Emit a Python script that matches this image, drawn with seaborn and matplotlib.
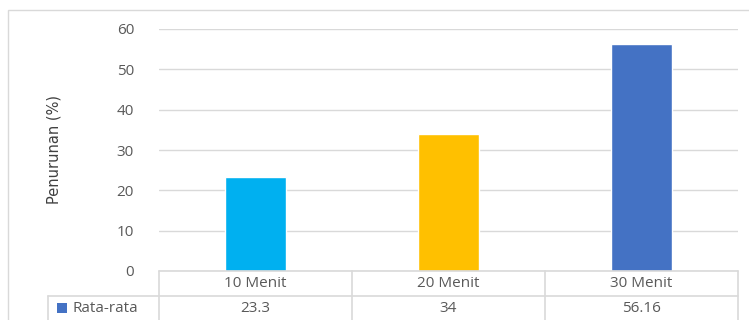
import matplotlib
matplotlib.use("Agg")
import matplotlib.pyplot as plt
import matplotlib.transforms as mtransforms
from matplotlib.patches import Rectangle
import seaborn as sns
import pandas as pd

categories = ["10 Menit", "20 Menit", "30 Menit"]
values = [23.3, 34, 56.16]
value_labels = ["23.3", "34", "56.16"]
series_name = "Rata-rata"
bar_colors = ["#00B0F0", "#FFC000", "#4472C4"]
series_color = "#4472C4"
yticks = [0, 10, 20, 30, 40, 50, 60]

sns.set_theme(style="white")
plt.rcParams['font.family'] = ['Open Sans', 'DejaVu Sans']

W, H = 749, 320
fig = plt.figure(figsize=(W / 100, H / 100), dpi=100)
fig.patch.set_facecolor("white")

# outer chart border
fig.patches.append(Rectangle((8 / W, -0.1), 1.2, (H - 10) / H + 0.1, transform=fig.transFigure,
                             fill=False, edgecolor="#d9d9d9", linewidth=1.0))

x0, x1 = 159, 738
y_top, y_zero = 29, 271
ax = fig.add_axes([x0 / W, (H - y_zero) / H, (x1 - x0) / W, (y_zero - y_top) / H])

df = pd.DataFrame({"cat": categories, "val": values})
sns.barplot(data=df, x="cat", y="val", hue="cat", palette=bar_colors, dodge=False,
            width=0.315, legend=False, ax=ax, saturation=1)

ax.set_ylim(0, 60)
ax.set_xlim(-0.5, 2.5)
ax.set_yticks(yticks)
ax.set_yticklabels([str(t) for t in yticks], color="#595959", fontsize=11)
ax.tick_params(axis="y", length=0, pad=18)
ax.set_xticks([])
ax.set_xlabel("")
ax.set_ylabel("")
for s in ax.spines.values():
    s.set_visible(False)
ax.yaxis.grid(True, color="#d9d9d9", linewidth=1.0)
ax.set_axisbelow(True)

fig.text(54 / W, 1 - 150 / H, "Penurunan (%)", rotation=90, ha="center", va="center",
         fontsize=10.5, color="#404040", family=['Liberation Sans Narrow', 'DejaVu Sans'])

# data table below the axis
trans = mtransforms.blended_transform_factory(ax.transData, fig.transFigure)
ftrans = fig.transFigure
lc = "#d9d9d9"
def fy(py):
    return 1 - py / H
row1_top, row1_bot, row2_bot = 271, 296, 330
fig.add_artist(plt.Line2D([x0 / W, x1 / W], [fy(row1_top)] * 2, transform=ftrans, color=lc, lw=1.2))
fig.add_artist(plt.Line2D([48 / W, x1 / W], [fy(row1_bot)] * 2, transform=ftrans, color=lc, lw=1.2))
for i in range(len(categories) + 1):
    xv = i - 0.5
    fig.add_artist(plt.Line2D([xv, xv], [fy(row1_top), fy(row2_bot)], transform=trans, color=lc, lw=1.2))
fig.add_artist(plt.Line2D([48 / W, 48 / W], [fy(row1_bot), fy(row2_bot)], transform=ftrans, color=lc, lw=1.2))

for i, (c, v) in enumerate(zip(categories, value_labels)):
    ax.text(i, fy(283.5), c, transform=trans, ha="center", va="center", fontsize=11, color="#595959")
    ax.text(i, fy(308.5), v, transform=trans, ha="center", va="center", fontsize=11, color="#595959")

fig.patches.append(Rectangle((57 / W, fy(313)), 10 / W, 10 / H, transform=ftrans,
                             facecolor=series_color, edgecolor="none"))
fig.text(72 / W, fy(308.5), series_name, ha="left", va="center", fontsize=11, color="#595959")

fig.savefig("out.png", dpi=100)
